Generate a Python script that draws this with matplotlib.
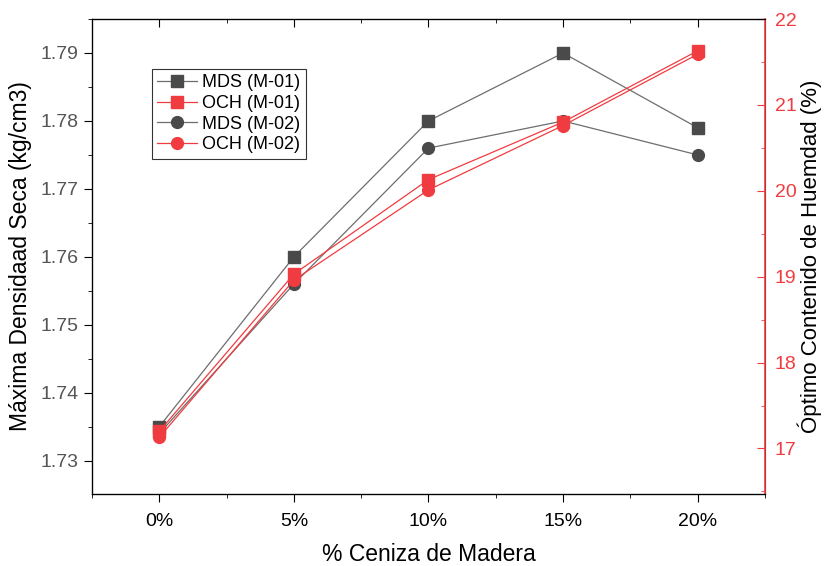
import numpy as np
import matplotlib.pyplot as plt
from matplotlib.ticker import MultipleLocator, FuncFormatter

plt.rcParams['font.family'] = ['Liberation Sans', 'DejaVu Sans']

# ceniza de madera (%)
ceniza = [0, 5, 10, 15, 20]
mds_m01 = [1.735, 1.760, 1.780, 1.790, 1.779]
mds_m02 = [1.734, 1.756, 1.776, 1.780, 1.775]
och_m01 = [17.2, 19.03, 20.13, 20.8, 21.63]
och_m02 = [17.13, 18.96, 20.01, 20.76, 21.59]

gris = '#4a4a4a'
linea_gris = '#6e6e6e'
rojo = '#f03c40'

fig = plt.figure(figsize=(8.27, 5.66), dpi=100)
ax = fig.add_axes([0.1112, 0.1272, 0.8138, 0.8392])
ax2 = ax.twinx()

l1, = ax.plot(ceniza, mds_m01, '-s', color=linea_gris, mfc=gris, mec=gris,
              lw=0.9, ms=8, label='MDS (M-01)')
l3, = ax.plot(ceniza, mds_m02, '-o', color=linea_gris, mfc=gris, mec=gris,
              lw=0.9, ms=8.5, label='MDS (M-02)')
l2, = ax2.plot(ceniza, och_m01, '-s', color=rojo, lw=0.9, ms=8,
               label='OCH (M-01)')
l4, = ax2.plot(ceniza, och_m02, '-o', color=rojo, lw=0.9, ms=8.5,
               label='OCH (M-02)')

ax.set_xlim(-2.5, 22.5)
ax.set_ylim(1.7251, 1.795)
ax2.set_ylim(16.47, 22)

ax.xaxis.set_major_locator(MultipleLocator(5))
ax.xaxis.set_minor_locator(MultipleLocator(2.5))
ax.xaxis.set_major_formatter(FuncFormatter(lambda v, p: '%d%%' % v))
ax.yaxis.set_major_locator(MultipleLocator(0.01))
ax.yaxis.set_minor_locator(MultipleLocator(0.005))
ax.yaxis.set_major_formatter(FuncFormatter(lambda v, p: '%.2f' % v))
ax2.yaxis.set_major_locator(MultipleLocator(1))
ax2.yaxis.set_minor_locator(MultipleLocator(0.5))

ax.tick_params(axis='x', which='both', direction='out', top=False,
               labelsize=14, pad=8)
ax.tick_params(axis='x', which='major', length=6)
ax.tick_params(axis='x', which='minor', length=3)
ax.tick_params(axis='y', which='major', direction='out', length=6,
               labelsize=14, labelcolor='#555555')
ax.tick_params(axis='y', which='minor', direction='out', length=3)
ax2.tick_params(axis='y', which='both', direction='in', colors=rojo,
                labelsize=14, pad=7)
ax2.tick_params(axis='y', which='major', length=6)
ax2.tick_params(axis='y', which='minor', length=3)

# ticks del eje superior hacia adentro
sec = ax.secondary_xaxis('top')
sec.xaxis.set_major_locator(MultipleLocator(5))
sec.xaxis.set_minor_locator(MultipleLocator(2.5))
sec.tick_params(which='both', direction='in', labeltop=False)
sec.tick_params(which='major', length=6)
sec.tick_params(which='minor', length=3)
sec.spines['top'].set_visible(False)

ax2.spines['right'].set_color(rojo)
for s in ['left', 'bottom', 'top']:
    ax.spines[s].set_color('black')
    ax.spines[s].set_linewidth(0.9)
ax2.spines['right'].set_linewidth(1.2)

ax.set_xlabel('% Ceniza de Madera', fontsize=16.5, labelpad=9)
ax.set_ylabel('Máxima Densidaad Seca (kg/cm3)', fontsize=16.5, labelpad=6)
ax2.set_ylabel('Óptimo Contenido de Huemdad (%)', fontsize=16,
               labelpad=1, color='black')

leg = ax2.legend([l1, l2, l3, l4],
                 ['MDS (M-01)', 'OCH (M-01)', 'MDS (M-02)', 'OCH (M-02)'],
                 loc='upper left', bbox_to_anchor=(0.089, 0.895),
                 fontsize=13, frameon=True, fancybox=False, borderpad=0.3,
                 labelspacing=0.2, handlelength=2.2, handletextpad=0.3,
                 borderaxespad=0)
leg.get_frame().set_edgecolor('black')
leg.get_frame().set_linewidth(0.8)

fig.savefig('out.png', dpi=100)
